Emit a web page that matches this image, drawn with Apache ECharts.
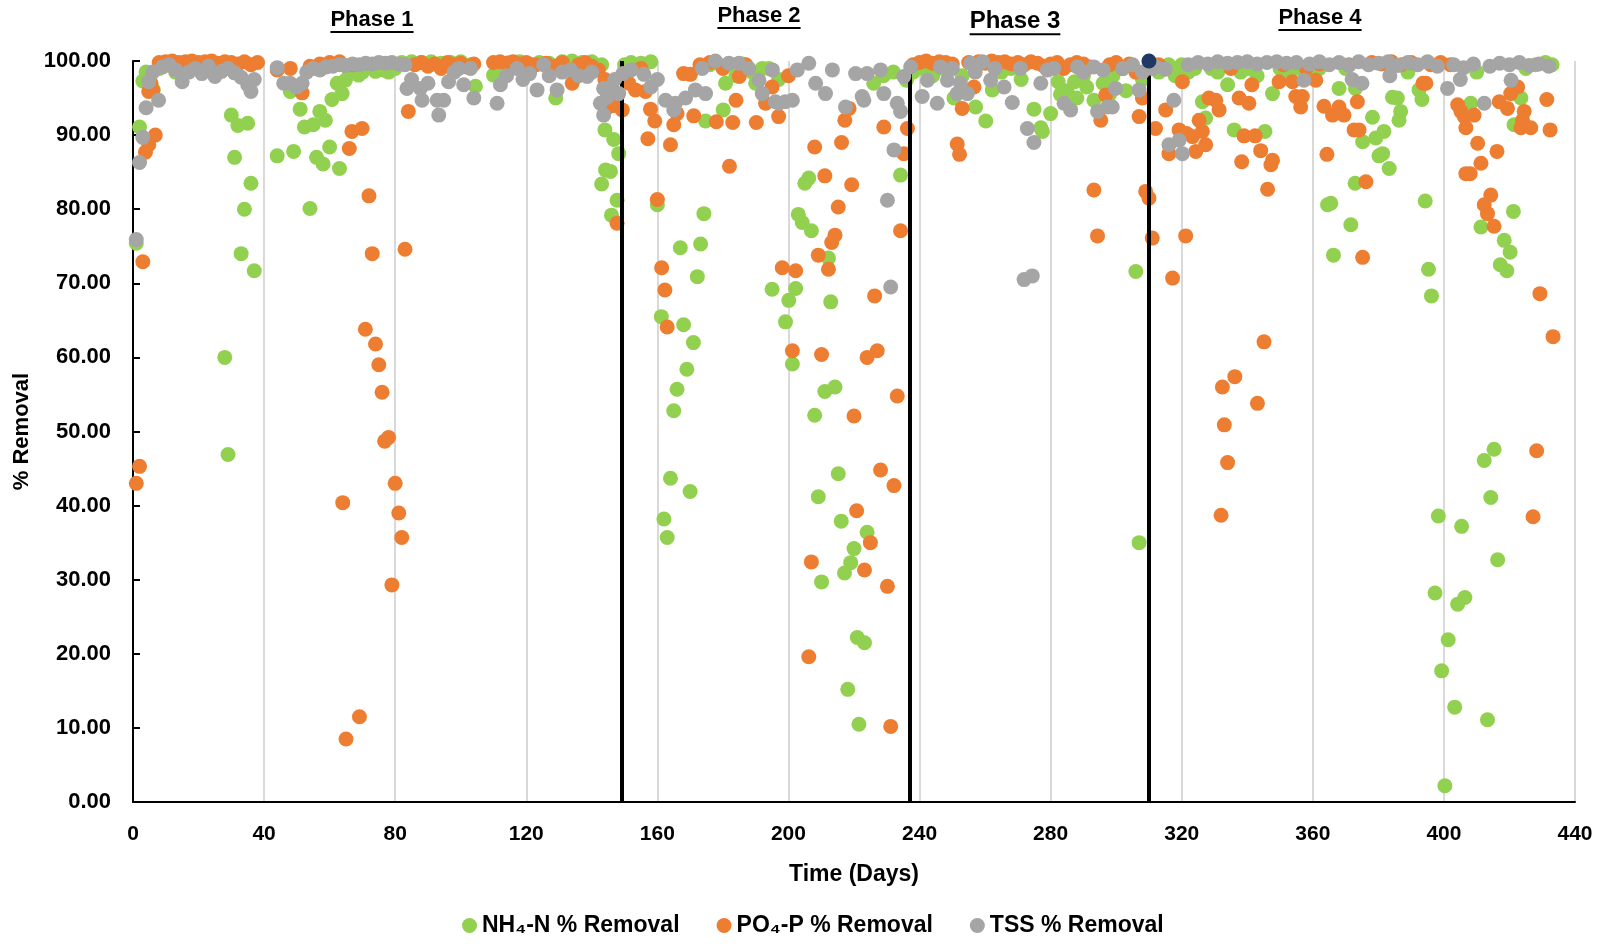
<!DOCTYPE html>
<html>
<head>
<meta charset="utf-8">
<script src="https://cdn.jsdelivr.net/npm/echarts@6/dist/echarts.min.js"></script>
<style>
html,body{margin:0;padding:0;background:#fff;}
#chart{width:1600px;height:944px;}
</style>
</head>
<body>
<div id="chart"></div>
<script>
// ---------------- DATA ----------------
const seriesNames = ['NH\u2084-N % Removal', 'PO\u2084-P % Removal', 'TSS % Removal'];
const xTicks = [0, 40, 80, 120, 160, 200, 240, 280, 320, 360, 400, 440];
const phaseBoundaries = [149, 237, 310];
const phaseLabels = ['Phase 1', 'Phase 2', 'Phase 3', 'Phase 4'];
const markerPoint = [[310, 100]];

const nh4Points = [
 [1,75.4],[2,91.1],[3,97.3],[4,98.5],[5,97.5],[6.2,96.1],[8,99],[10,99.5],[13,98.5],[15,98],[17,99.5],[20,99],[23,99.5],[26,99],
 [28,60],[29,46.9],[30,92.7],[31,87],[32,91.3],[33,74],[34,80],[35,91.6],[36,83.5],[37,71.7],
 [44,87.2],[48,95.9],[49,87.8],[51,93.5],[52.3,91.1],[54,80.1],[55,91.4],[56,87],[57,93.2],[58,86.1],[58.7,92],[60,88.4],[60.7,94.8],
 [62.3,97],[63,85.5],[63.8,95.6],[64.8,97.4],[66,98.5],[68.8,98.1],[70,98.5],[72,99.5],[74,98.6],[76.4,98.8],[78,98.5],[80,99],
 [82,99.8],[85,99.9],[88,99.8],[91,99.9],[94,99.7],[97,99.8],[100,99.9],[103,99.5],[104.5,96.6],[110,98.1],[112,99.5],[115,99.8],
 [118,99.9],[121,99.6],[124,99.8],[127,99.7],[129,95],[131,99.9],[134,100],[137,99.8],[140,99.9],[143,99.5],
 [143,83.4],[144,90.7],[144.2,85.3],[145.7,85.1],[146,79.2],[146.7,89.4],[147.7,81.2],[148.2,87.5],
 [150,99.5],[152,99.8],[155,99.7],[158,99.9],[160,80.6],[161.2,65.5],[162,38.2],[163,35.7],[164,43.7],[165,52.8],[166,55.7],
 [167,74.8],[168,64.4],[169,58.4],[170,41.9],[171,62],[172.2,70.9],[173.2,75.3],[174.2,79.4],[174.7,91.9],[176,99.5],[178,99.8],
 [180.1,93.4],[180.8,97],[183,99.5],[184,98],[186,99.6],[189,98.5],[190,97],[192,99],[194,99],[195,69.2],[197,97.5],
 [199.1,64.8],[200.1,67.7],[201.2,59.1],[202.2,69.3],[203,79.3],[204.2,78.2],[205,83.5],[206.2,84.2],[207,77.1],[208,52.2],
 [209.1,41.2],[210.1,29.7],[211.1,55.4],[212.2,73.4],[212.9,67.5],[214.2,56],[215.2,44.3],[216.1,37.9],[217.1,30.9],[218.1,15.2],
 [219,32.3],[220,34.2],[221,22.2],[221.5,10.5],[223.2,21.5],[224,36.4],[226,97],[229,98],[232,98.5],[234.2,84.6],[236,97.4],
 [238,98.5],[241,99],[244,98],[247,99],[250.5,95],[253,98],[257.1,93.8],[260.2,91.9],[262.2,96.1],[265,98.5],[268,99],[271,97.5],
 [274.9,93.5],[277,91],[277.5,90.5],[280,92.9],[282.3,97.2],[283,95.5],[285,96],[287.3,97.2],[288,95],[290,98],[291,96.5],
 [293.2,94.7],[296,97],[298,95.5],[299,98],[302,99],[303,96],[306,71.6],[307,35],[308,97.5],
 [311,99],[313,98.5],[316,99.5],[318,98],[320,99.5],[322,98.5],[324,99],[326.3,94.5],[327.3,92.3],[329,99],[331,98.5],[334,96.8],
 [336,90.7],[338,98.5],[340,99],[343,98],[345.4,90.5],[347.7,95.6],[350,99],[353,98.5],[356,99],[359,98],[362,99],
 [364.5,80.6],[365.5,80.8],[366.3,73.8],[368,96.3],[370,99],[371.6,77.9],[372.9,83.5],[373,96.3],[375.2,89.1],[378.2,92.4],
 [379.2,89.6],[380.2,87.2],[381.3,87.5],[381.7,90.5],[383.3,85.5],[384.3,95.1],[385.8,95],[386.3,92],[386.8,93.2],[389,98.5],
 [392.4,96.1],[393.3,94.8],[394.3,81.1],[395.3,71.9],[396.2,68.3],[397.3,28.2],[398.3,38.6],[399.3,17.7],[400.3,2.2],[401.3,21.9],
 [403.3,12.8],[404.2,26.7],[405.4,37.2],[406.4,27.6],[408.2,94.3],[410,98.5],[411.3,77.6],[412.3,46.1],[413.3,11.1],[414.3,41.1],
 [415.3,47.6],[416.4,32.7],[417.2,72.5],[418.4,75.8],[419.2,71.7],[420.2,74.2],[421.2,79.7],[421.4,91.4],[423.5,95],[425,99],
 [428,99.5],[431,99.8],[433,99.5]
];

const po4Points = [
 [1,43],[2,45.3],[3,72.9],[3.8,87.7],[4.8,88.7],[4.8,95.9],[5.5,97],[6,96],[6.8,90],[8,99.8],[10,99.9],[12,100],[14,99.8],[16,99.9],
 [18,100],[20,99.8],[22,99.9],[24,100],[26,99.7],[28,99.9],[30,99.8],[32,99.6],[34,99.9],[36,99.5],[38,99.8],
 [44,98.8],[48,99],[51.6,95.7],[54,99.3],[57,99.6],[60,99.8],[63,99.9],[64,40.4],[65,8.5],[66,88.2],[66.8,90.5],[67,99.5],
 [69.1,11.5],[69.9,90.9],[70.9,63.8],[72,81.8],[73,74],[74,61.8],[75,59],[76,55.3],[76.8,48.7],[78,49.2],[79,29.3],[80,43],
 [81.1,39],[82,35.7],[83,74.6],[84,93.2],[86,99.5],[88,99.8],[90,99.3],[92,99.6],[94,99],[96,99.8],[98,99.5],[100,99.7],
 [102,99.2],[104,99.6],[110,99.8],[112,99.9],[114,99.7],[116,99.9],[118,99.6],[120,99.8],[123,99.5],[126,99.7],[129,99.3],
 [131,99.8],[134,97],[136,99.5],[138,99.8],[140,99.3],[142,98.8],[144,97.5],[145,93.8],[146,96.5],[147,94],[147.7,78.1],[148,95.5],
 [149.3,93.4],[151.3,97],[153.3,96.1],[155,99],[156.4,95.9],[157.1,89.5],[157.9,93.5],[159.2,91.9],[160,81.3],[161.3,72.1],
 [162.3,69.1],[163,64.1],[164,88.7],[165,91.4],[166,92.9],[168,98.3],[170.1,98.2],[171.1,92.6],[173,99.5],[176,99.8],[178,91.8],
 [180,99],[182,85.8],[183,91.7],[184,94.7],[185,97.9],[187,99.5],[190.2,91.7],[193,94.3],[195,96.5],[197,92.5],[198.1,72.1],
 [200,98],[201.2,60.9],[202.2,71.7],[206.2,19.6],[207,32.4],[208,88.4],[209.1,73.8],[210.1,60.4],[211.1,84.5],[212.2,71.9],
 [213.2,75.5],[214.2,76.5],[215.2,80.3],[216.2,89],[217.2,92],[218.5,93.6],[219.3,83.3],[220,52.1],[220.8,39.3],[223.2,31.3],
 [224,60],[225,35],[226.3,68.3],[227.1,60.9],[228.1,44.8],[229.1,91.1],[230.2,29.1],[231.2,10.2],[232.2,42.7],[233.2,54.8],
 [234.2,77.1],[235.2,87.5],[236.3,90.9],
 [238,99.5],[240,99.8],[242,100],[244,99.7],[246,99.9],[248,99.8],[250,99.6],[251.5,88.8],[252.2,87.4],[253,93.6],[255,99.8],
 [256.6,96.5],[258,99.9],[260,99.7],[262,100],[264,99.8],[266,99.9],[268,99.6],[270,99.8],[272,99.5],[274,99.9],[276,99.7],
 [278,99.3],[280,99.6],[282,99.8],[284,99],[286,99.5],[288,99.8],[290,99.6],[292,99.2],[293.2,82.6],[294.3,76.4],[295.3,92],
 [296.8,95.4],[298,99.5],[300,99.8],[302,99],[304,99.6],[306,98.5],[307,92.5],[308,95],[309,82.4],[310,81.5],
 [311,76.1],[312,90.9],[313,99.5],[315.1,93.4],[316.1,87.5],[317.2,70.7],[319.2,90.7],[320.2,97.2],[321.2,76.4],[321.5,90.2],
 [323.3,89.8],[324.3,87.8],[325.3,92],[326.3,90.5],[327.3,88.7],[328.3,95],[330.4,94.7],[331.4,93.4],[332,38.7],[332.4,56],
 [333,50.9],[334,45.8],[335,99],[336.2,57.4],[337.5,95],[338.3,86.4],[339,89.9],[340.5,94.3],[341.4,96.8],[342.4,89.9],
 [343.1,53.8],[344.1,87.9],[345.1,62.1],[346.2,82.7],[347.2,86],[347.7,86.6],[349.7,97.2],[351,99.5],[353.8,97.2],[354.8,95.2],
 [356.3,93.8],[356.8,95.2],[358,99],[360.9,97.4],[362,99.6],[363.4,93.9],[364.3,87.4],[366,92.7],[368,93.8],[369.5,92.7],
 [371,99.5],[372.6,90.7],[373.6,94.5],[374.1,90.7],[375.2,73.5],[376.2,83.7],[378,99.8],[381,99.6],[384,99.9],[387,99.5],
 [390,99.8],[393.6,97],[394.5,97],[396,99.5],[399,99.8],[402,99.5],[404.2,94.1],[405.2,93.2],[406.2,92.5],[406.7,91],
 [406.7,84.8],[408,84.8],[409.2,92.7],[410.3,88.9],[411.3,86.2],[412.3,80.6],[413.3,79.4],[414.3,81.9],[415.3,77.7],[416.2,87.8],
 [416.9,94.5],[419.4,93.6],[420.4,95.6],[422.5,96.5],[423.5,91],[424,92],[424.5,93.2],[426.5,91],[427.2,38.5],[428.3,47.4],
 [429.3,68.6],[431.4,94.8],[432.4,90.7],[433.3,62.8]
];

const tssPoints = [
 [1,75.9],[2,86.3],[3,89.7],[4,93.7],[4.8,97.2],[6,98.5],[7.8,94.7],[9,99.2],[11,99.5],[13,98.8],[15,97.2],[17,98.5],[19,99],
 [21,98.3],[23,99.3],[25,97.9],[27,98.6],[29,99],[31,98.4],[33,97.8],[35,96.8],[36,95.9],[37,97.5],
 [44,99.1],[46,97],[48,97],[50,96.5],[51.6,97],[53,98.5],[55,99],[57,98.8],[59,99.2],[61,99.3],[63,99.5],[65,99.4],[67,99.6],
 [69,99.5],[71,99.7],[73,99.6],[75,99.8],[77,99.7],[79,99.8],[81,99.6],[83,99.5],[83.6,96.3],[85,97.5],[87.7,96.3],[88.2,94.7],
 [90,97],[92.8,94.7],[93.3,92.7],[94.8,94.7],[96.3,97.2],[98,98.5],[99.4,99],[100.9,96.8],[103,99],[104,95],[111.1,94.3],
 [112.1,96.8],[114,98],[117.2,99],[119,97.5],[121,98.3],[123.3,96.1],[125.3,99.5],[127,98],[129.4,96.1],[131,98.5],[133.5,98.8],
 [136,98],[138.6,97.9],[140,98.5],[142.6,94.3],[143.6,92.7],[143.6,96.3],[144.7,95.1],[145.7,96.5],[147,97.5],
 [148.2,95.6],[149.5,98.3],[152,98.8],[155.9,98.2],[158,96.5],[160,97.5],[162.5,94.7],[165,93.4],[165.5,94.3],[168.6,95],
 [171.6,96.1],[173.7,99],[174.7,95.6],[177.7,100],[181.8,99.7],[184.9,99.7],[187.9,99],[191,97.4],[192,95.6],[195.1,98.8],
 [196,94.5],[197.1,94.3],[199,94.5],[201.2,94.7],[202.7,98.8],[206.2,99.7],[208.3,97],[211.3,95.6],[213.4,98.8],[217.4,93.8],
 [220.5,98.3],[222.5,95.2],[223,94.7],[224,98.3],[228.1,98.8],[229.1,95.6],[230.2,81.2],[231.2,69.5],[232.2,88],[233.2,94.3],
 [234.2,93.2],[235.2,97.9],
 [237.3,99.2],[240.8,95.2],[242.4,97.4],[245.4,94.3],[246.4,99.2],[248.5,97.4],[250,99],[251.5,95.6],[252.5,97],[254.6,95.6],
 [255.6,99.7],[257,98.5],[259.2,99.9],[261.7,97.4],[263,99],[265.8,96.5],[268.3,94.4],[270.8,99],[271.9,70.5],[272.9,90.9],
 [274.4,71],[274.9,89],[277,97],[279,98.8],[281,99],[284.1,94.3],[286.1,93.4],[288.2,99.2],[290,98.5],[293.2,99.2],[294.3,93.2],
 [296,98.8],[297.3,93.8],[298.8,93.8],[299.8,96.3],[302,99],[305,99.5],[307,96.1],[308,98.5],
 [311,99],[312,99.2],[315,98.9],[316.1,88.7],[317.6,94.7],[319.2,89.3],[320.2,87.5],[322,99.5],[325,99.8],[328,99.6],[331,99.9],
 [334,99.7],[337,99.8],[340,99.9],[343,99.6],[346,99.8],[349,99.9],[352,99.7],[355,99.8],[357.3,97.4],[359,99.6],[362,99.9],
 [365,99.5],[368,99.8],[371,99.4],[372,97.5],[374,99.9],[375,97],[377,99.5],[380,99.7],[383,99.9],[383.5,98],[386,99.4],
 [389,99.8],[392,99.5],[395,99.9],[398,99.3],[401.1,96.3],[403,99.5],[405,97.5],[406,99.1],[409,99.6],[412.3,94.3],[414,99.3],
 [417,99.7],[420,99.5],[420.5,97.4],[423,99.8],[426,99.4],[429,99.6],[432,99.3]
];

// ---------------- CHART ----------------
const FONT = "'Liberation Sans', Arial, 'DejaVu Sans', sans-serif";
const colors = ['#92D050', '#ED7D31', '#A5A5A5'];
const chart = echarts.init(document.getElementById('chart'), null, {renderer: 'canvas'});

const boundaryLines = phaseBoundaries.map(d => [{coord: [d, 0]}, {coord: [d, 100]}]);

// Phase titles (pixel layout) with underline
const phaseLayout = [
  {cx: 372, cy: 20, size: 22},
  {cx: 759, cy: 16, size: 22},
  {cx: 1015, cy: 21, size: 24},
  {cx: 1320, cy: 18, size: 22}
];
const measureCtx = document.createElement('canvas').getContext('2d');
const graphics = [];
phaseLabels.forEach((t, i) => {
  const L = phaseLayout[i];
  measureCtx.font = 'bold ' + L.size + 'px ' + FONT;
  const w = measureCtx.measureText(t).width;
  graphics.push({
    type: 'text', silent: true,
    style: {text: t, x: L.cx, y: L.cy, fill: '#000', font: 'bold ' + L.size + 'px ' + FONT,
            textAlign: 'center', textVerticalAlign: 'middle'}
  });
  graphics.push({
    type: 'line', silent: true,
    shape: {x1: L.cx - w / 2, y1: L.cy + L.size * 0.55, x2: L.cx + w / 2, y2: L.cy + L.size * 0.55},
    style: {stroke: '#000', lineWidth: 2}
  });
});

const option = {
  animation: false,
  backgroundColor: '#fff',
  grid: {left: 133, right: 25, top: 61, bottom: 142, containLabel: false},
  xAxis: {
    type: 'value', min: 0, max: 440, interval: 40,
    name: 'Time (Days)', nameLocation: 'middle', nameGap: 61,
    nameTextStyle: {fontFamily: FONT, fontWeight: 'bold', fontSize: 23, color: '#000'},
    axisLine: {show: true, onZero: false, lineStyle: {color: '#000', width: 2}},
    axisTick: {show: false},
    axisLabel: {fontFamily: FONT, fontWeight: 'bold', fontSize: 21, color: '#000', margin: 22},
    splitLine: {show: true, lineStyle: {color: '#D9D9D9', width: 2}}
  },
  yAxis: {
    type: 'value', min: 0, max: 100, interval: 10,
    name: '% Removal', nameLocation: 'middle', nameGap: 100, nameRotate: 90,
    nameTextStyle: {fontFamily: FONT, fontWeight: 'bold', fontSize: 22, color: '#000'},
    axisLine: {show: true, lineStyle: {color: '#000', width: 2}},
    axisTick: {show: true, inside: true, length: 7, lineStyle: {color: '#000', width: 2}},
    axisLabel: {fontFamily: FONT, fontWeight: 'bold', fontSize: 22, color: '#000', margin: 22,
                formatter: v => v.toFixed(2)},
    splitLine: {show: false}
  },
  legend: {
    data: seriesNames, left: 457, top: 909, itemGap: 37, itemWidth: 15, itemHeight: 15,
    icon: 'circle',
    textStyle: {fontFamily: FONT, fontWeight: 'bold', fontSize: 23, color: '#000'}
  },
  graphic: graphics,
  series: [
    {name: seriesNames[0], type: 'scatter', data: nh4Points, symbolSize: 15, z: 2,
     itemStyle: {color: colors[0], opacity: 1}},
    {name: seriesNames[1], type: 'scatter', data: po4Points, symbolSize: 15, z: 3,
     itemStyle: {color: colors[1], opacity: 1}},
    {name: 'boundaries', type: 'scatter', data: [], z: 4,
     markLine: {silent: true, symbol: ['none', 'none'], label: {show: false},
                lineStyle: {color: '#000', width: 4, type: 'solid'}, data: boundaryLines}},
    {name: seriesNames[2], type: 'scatter', data: tssPoints, symbolSize: 15, z: 5,
     itemStyle: {color: colors[2], opacity: 1}},
    {name: 'marker', type: 'scatter', data: markerPoint, symbolSize: 15, z: 6,
     itemStyle: {color: '#203864', opacity: 1}}
  ]
};
chart.setOption(option);
</script>
</body>
</html>
